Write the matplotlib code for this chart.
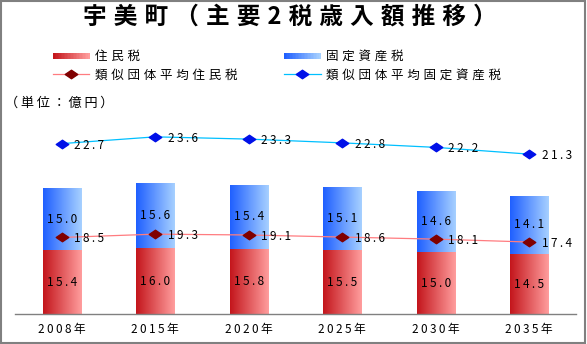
import numpy as np
import matplotlib
matplotlib.use("Agg")
import matplotlib.pyplot as plt
from matplotlib.patches import Rectangle
from matplotlib.path import Path
from matplotlib.lines import Line2D
from matplotlib.legend_handler import HandlerBase
from matplotlib.colors import LinearSegmentedColormap

plt.rcParams['font.family'] = ['Noto Sans CJK JP', 'DejaVu Sans']

# data
years = ['2008年', '2015年', '2020年', '2025年', '2030年', '2035年']
jumin = [15.4, 16.0, 15.8, 15.5, 15.0, 14.5]          # 住民税
kotei = [15.0, 15.6, 15.4, 15.1, 14.6, 14.1]          # 固定資産税
sim_jumin = [18.5, 19.3, 19.1, 18.6, 18.1, 17.4]      # 類似団体平均住民税
sim_kotei = [22.7, 23.6, 23.3, 22.8, 22.2, 21.3]      # 類似団体平均固定資産税

title = '宇美町（主要2税歳入額推移）'
unit = '（単位：億円）'

red_cm = LinearSegmentedColormap.from_list('r', ['#c4161c', '#ff9d9d'])
blue_cm = LinearSegmentedColormap.from_list('b', ['#2060ff', '#a6d0ff'])
grad = np.linspace(0, 1, 64).reshape(1, -1)

THIN = '\u2009'
HAIR = '\u200a'


def spaced(s, sp=THIN):
    return sp.join(s)


diamond = Path([(-1, 0), (0, 0.68), (1, 0), (0, -0.68), (-1, 0)],
               [Path.MOVETO, Path.LINETO, Path.LINETO, Path.LINETO, Path.CLOSEPOLY])


class GradHandler(HandlerBase):
    def __init__(self, cmap):
        super().__init__()
        self.cmap = cmap

    def create_artists(self, legend, orig_handle, xdescent, ydescent,
                       width, height, fontsize, trans):
        n = 24
        out = []
        h = height * 0.7
        for i in range(n):
            r = Rectangle((-xdescent + i * width / n, -ydescent + (height - h) / 2),
                          width / n + 0.3, h, facecolor=self.cmap(i / (n - 1)),
                          edgecolor='none', transform=trans)
            out.append(r)
        return out


fig = plt.figure(figsize=(5.87, 3.44), dpi=100)
ax = fig.add_axes([15 / 587, 29.7 / 344, 561 / 587, 214.3 / 344])
x = np.arange(len(years))

b1 = ax.bar(x, jumin, width=0.41, color='none', edgecolor='none')
b2 = ax.bar(x, kotei, width=0.41, bottom=jumin, color='none', edgecolor='none')
for bars, cm in ((b1, red_cm), (b2, blue_cm)):
    for r in bars:
        x0, y0 = r.get_x(), r.get_y()
        im = ax.imshow(grad, cmap=cm, aspect='auto', interpolation='bilinear',
                       extent=[x0, x0 + r.get_width(), y0, y0 + r.get_height()], zorder=1)
        im.set_clip_path(r)

ax.bar_label(b1, labels=[spaced(f'{v:.1f}') for v in jumin], label_type='center', fontsize=8.5)
ax.bar_label(b2, labels=[spaced(f'{v:.1f}') for v in kotei], label_type='center', fontsize=8.5)

ax.plot(x, sim_jumin, color='#ff7c80', lw=0.9, marker=diamond, ms=9,
        mfc='#800000', mec='#800000', zorder=3)
for xi, v in zip(x, sim_jumin):
    ax.annotate(spaced(f'{v:.1f}'), (xi, v), xytext=(9, -1), textcoords='offset points',
                ha='left', va='center', fontsize=8.5, zorder=4)

ax.set_xlim(-0.5, len(years) - 0.5)
ax.set_ylim(0, 51.6)

ax2 = ax.twinx()
ax2.plot(x, sim_kotei, color='#00c0ff', lw=0.9, marker=diamond, ms=9,
         mfc='#0010e8', mec='#0010e8')
for xi, v in zip(x, sim_kotei):
    ax2.annotate(spaced(f'{v:.1f}'), (xi, v), xytext=(9, -1), textcoords='offset points',
                 ha='left', va='center', fontsize=8.5)
ax2.set_ylim(0, 28.5)

for a in (ax, ax2):
    for s in ('top', 'right', 'left'):
        a.spines[s].set_visible(False)
    a.set_yticks([])
ax2.spines['bottom'].set_visible(False)
ax.spines['bottom'].set_color('#808080')
ax.spines['bottom'].set_linewidth(1.0)

ax.set_xticks(x, [spaced(y) for y in years], fontsize=8.5)
ax.tick_params(axis='x', length=0, pad=6)

fig.text(290 / 587, 1 - 17 / 344, spaced(title, THIN + HAIR), ha='center', va='center',
         fontsize=17, fontweight='bold')
fig.text(5 / 587, 1 - 103 / 344, spaced(unit), ha='left', va='center', fontsize=9.5)

r_proxy = Rectangle((0, 0), 1, 1)
b_proxy = Rectangle((0, 0), 1, 1)
l1 = Line2D([], [], color='#ff7c80', lw=0.9, marker=diamond, ms=9, mfc='#800000', mec='#800000')
l2 = Line2D([], [], color='#00c0ff', lw=0.9, marker=diamond, ms=9, mfc='#0010e8', mec='#0010e8')
labels = ['住民税', '類似団体平均住民税', '固定資産税', '類似団体平均固定資産税']
fig.legend([r_proxy, l1, b_proxy, l2], [spaced(s, THIN + HAIR) for s in labels],
           handler_map={r_proxy: GradHandler(red_cm), b_proxy: GradHandler(blue_cm)},
           ncol=2, loc='upper left', bbox_to_anchor=(53 / 587, 1 - 50 / 344),
           frameon=False, fontsize=9, handlelength=2.9, handletextpad=0.45,
           columnspacing=3.75, labelspacing=0.45, borderpad=0, borderaxespad=0)

fig.patches.append(Rectangle((0.002, 0.004), 0.994, 0.992, transform=fig.transFigure,
                             fill=False, edgecolor='#808080', lw=1.5))

fig.savefig('out.png', dpi=100, facecolor='white')
